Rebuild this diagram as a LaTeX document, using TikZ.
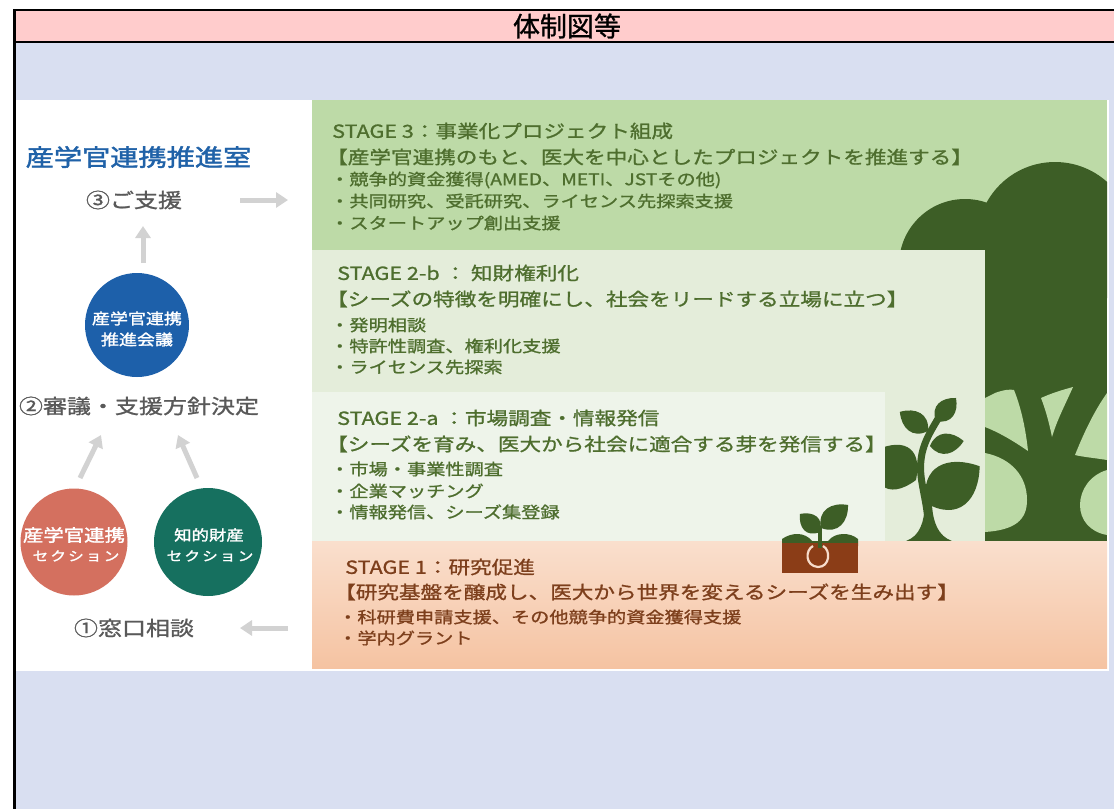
\documentclass[tikz,border=0pt]{standalone}
\usepackage{fontspec}
\usetikzlibrary{arrows.meta}
\newfontfamily\jphead{Noto Sans CJK JP}[FakeBold=1.0]
\newfontfamily\jpm{Noto Sans CJK JP}[FakeStretch=1.2, FakeBold=1.1]
\newfontfamily\jpb{Noto Sans CJK JP}[FakeStretch=1.2, FakeBold=1.8]

\definecolor{hdr}{HTML}{FFCCCC}
\definecolor{lav}{HTML}{D9DFF1}
\definecolor{gthree}{HTML}{BDDAA7}
\definecolor{gtwob}{HTML}{E4EDDA}
\definecolor{gtwoa}{HTML}{EEF4EA}
\definecolor{sonetop}{HTML}{FADFCD}
\definecolor{sonebot}{HTML}{F5C3A2}
\definecolor{treeg}{HTML}{3D5E26}
\definecolor{stgreen}{HTML}{4E6E2E}
\definecolor{stbrown}{HTML}{7D3F1C}
\definecolor{soil}{HTML}{8B3D17}
\definecolor{seed}{HTML}{F7DCCB}
\definecolor{arrowgray}{HTML}{D2D2D2}
\definecolor{officeblue}{HTML}{2062A8}
\definecolor{councilblue}{HTML}{1D60AA}
\definecolor{redc}{HTML}{D4705F}
\definecolor{tealc}{HTML}{16705F}
\definecolor{gtext}{HTML}{595959}

\tikzset{
  sttitle/.style={anchor=west, inner sep=0pt, font=\jpm\fontsize{18}{20}\selectfont},
  stlead/.style={anchor=west, inner sep=0pt, font=\jpm\fontsize{18}{20}\selectfont},
  stitem/.style={anchor=west, inner sep=0pt, font=\jpm\fontsize{16}{18}\selectfont},
  flowlabel/.style={inner sep=0pt, text=gtext, font=\jpm\fontsize{20}{22}\selectfont},
  disc/.style={circle, inner sep=0pt, minimum size=#1},
  disctext/.style={inner sep=0pt, text=white, align=center, font=\jpb\fontsize{15}{21}\selectfont},
  garrow/.style={draw=arrowgray, line width=5pt, -{Triangle[width=15pt,length=12pt]}},
  leaf/.pic={\fill (0,0) .. controls (0.25,0.62) and (0.7,0.5) .. (1,0)
                     .. controls (0.7,-0.5) and (0.25,-0.62) .. (0,0) -- cycle;}
}

\begin{document}
\begin{tikzpicture}[x=1pt,y=-1pt]
\useasboundingbox (0,0) rectangle (1114,809);
\fill[white] (0,0) rectangle (1114,809);

% sheet: header band and body
\fill[lav] (15,42) rectangle (1114,809);
\fill[hdr] (15,10) rectangle (1114,42);
\node[inner sep=0pt, font=\jphead\fontsize{27}{29}\selectfont] (title) at (567,26) {体制図等};
\draw[line width=2.4pt] (1114,10) -- (14.5,10) -- (14.5,809);
\draw[line width=2.4pt] (14.5,42) -- (1114,42);

% figure panel
\fill[white] (16,100) rectangle (1109,671);
\fill[gthree] (312,100) rectangle (1107,541);

% tree
\begin{scope}
  \clip (312,100) rectangle (1107,541);
  \fill[treeg] (965,265) circle[radius=66];
  \fill[treeg] (1055,240) circle[radius=78];
  \fill[treeg] (915,250) rectangle (1107,541);
  \fill[gthree] (985,398) -- (995,393) .. controls (1003,390) and (1010,389) .. (1014,390)
     .. controls (1022,410) and (1026,432) .. (1028,451)
     .. controls (1012,440) and (998,432) .. (985,427) -- cycle;
  \fill[gthree] (985,453) .. controls (1010,458) and (1027,475) .. (1027,500)
     .. controls (1027,520) and (1015,530) .. (985,532) -- cycle;
  \fill[gthree] (1041,398) .. controls (1052,393) and (1062,390) .. (1073,387)
     .. controls (1065,405) and (1057,420) .. (1052,437)
     .. controls (1049,422) and (1045,408) .. (1041,398) -- cycle;
  \fill[gthree] (1107,393) -- (1107,460) .. controls (1095,458) and (1083,457) .. (1075,455)
     .. controls (1085,430) and (1095,410) .. (1107,393) -- cycle;
  \fill[gthree] (1107,470) .. controls (1090,475) and (1080,490) .. (1080,505)
     .. controls (1080,520) and (1090,532) .. (1107,535) -- cycle;
\end{scope}

\fill[gtwob] (312,250) rectangle (985,541);

% young plant
\begin{scope}[treeg]
  \draw[treeg, line width=7pt] (928,536) .. controls (930,505) and (918,482) .. (921,460)
     .. controls (923,440) and (935,425) .. (943,410);
  \fill[treeg] (906,541) .. controls (920,536) and (924,522) .. (925,505) -- (932,505)
     .. controls (933,522) and (938,536) .. (952,541) -- cycle;
  \pic[treeg, rotate=49, xscale=30.5, yscale=23] at (936,421) {leaf};
  \pic[treeg, rotate=145.8, xscale=34, yscale=25] at (928,431) {leaf};
  \pic[treeg, rotate=8.4, xscale=34, yscale=24] at (930,446) {leaf};
  \pic[treeg, rotate=147.5, xscale=52, yscale=55] at (916,480) {leaf};
  \pic[treeg, rotate=34.4, xscale=65, yscale=55] at (926,503) {leaf};
\end{scope}

\fill[gtwoa] (312,392) rectangle (885,541);
\shade[top color=sonetop, bottom color=sonebot] (312,541) rectangle (1107,668);

% sprout in the soil
\fill[treeg] (782,546) -- (782,539) .. controls (792,532) and (805,532) .. (812,541) -- (828,541)
   .. controls (835,532) and (850,532) .. (858,539) -- (858,546) -- cycle;
\fill[soil] (782,543) rectangle (858,573);
\draw[treeg, line width=4pt] (820,548) -- (820,527);
\pic[treeg, rotate=138, xscale=27, yscale=22] at (820,532) {leaf};
\pic[treeg, rotate=40.4, xscale=35.5, yscale=26] at (821,528) {leaf};
\draw[seed, line width=2.2pt] (813,546) .. controls (805,550) and (805,566) .. (818,567)
   .. controls (830,567) and (831,550) .. (823,546);

% stage texts
\node[sttitle, text=stgreen] (s3t) at (332,131) {STAGE 3：事業化プロジェクト組成};
\node[stlead, text=stgreen] (s3l) at (326,157) {【産学官連携のもと、医大を中心としたプロジェクトを推進する】};
\node[stitem, text=stgreen] (s3a) at (330,180) {・競争的資金獲得(AMED、METI、JSTその他)};
\node[stitem, text=stgreen] (s3b) at (330,201) {・共同研究、受託研究、ライセンス先探索支援};
\node[stitem, text=stgreen] (s3c) at (330,223) {・スタートアップ創出支援};

\node[sttitle, text=stgreen] (s2bt) at (337,273) {STAGE 2-b ： 知財権利化};
\node[stlead, text=stgreen] (s2bl) at (326,299) {【シーズの特徴を明確にし、社会をリードする立場に立つ】};
\node[stitem, text=stgreen] (s2ba) at (330,325) {・発明相談};
\node[stitem, text=stgreen] (s2bb) at (330,346) {・特許性調査、権利化支援};
\node[stitem, text=stgreen] (s2bc) at (330,367) {・ライセンス先探索};

\node[sttitle, text=stgreen] (s2at) at (337,418) {STAGE 2-a ：市場調査・情報発信};
\node[stlead, text=stgreen] (s2al) at (326,444) {【シーズを育み、医大から社会に適合する芽を発信する】};
\node[stitem, text=stgreen] (s2aa) at (330,469) {・市場・事業性調査};
\node[stitem, text=stgreen] (s2ab) at (330,491) {・企業マッチング};
\node[stitem, text=stgreen] (s2ac) at (330,512) {・情報発信、シーズ集登録};

\node[sttitle, text=stbrown] (s1t) at (345,567) {STAGE 1：研究促進};
\node[stlead, text=stbrown] (s1l) at (334,592) {【研究基盤を醸成し、医大から世界を変えるシーズを生み出す】};
\node[stitem, text=stbrown] (s1a) at (338,617) {・科研費申請支援、その他競争的資金獲得支援};
\node[stitem, text=stbrown] (s1b) at (338,638) {・学内グラント};

% support flow
\node[inner sep=0pt, text=officeblue, font=\jpb\fontsize{23.5}{26}\selectfont] (office) at (138.5,157) {産学官連携推進室};
\node[flowlabel] (support) at (134,200) {③ご支援};
\node[disc=104pt, fill=councilblue] (council) at (137,325) {};
\node[disctext] (counciltxt) at (137,329) {産学官連携\\推進会議};
\node[flowlabel] (decide) at (139,406) {②審議・支援方針決定};
\node[disc=107pt, fill=redc] (iacsec) at (74,542) {};
\node[disctext, font=\jpb\fontsize{17}{21}\selectfont] (iactxt) at (74,535) {産学官連携};
\node[disctext, font=\jpb\fontsize{13}{15}\selectfont] (iacsub) at (76,556) {セ\,ク\,シ\,ョ\,ン};
\node[disc=108pt, fill=tealc] (ipsec) at (208,542) {};
\node[disctext, font=\jpb\fontsize{14.5}{21}\selectfont] (iptxt) at (209,535) {知的財産};
\node[disctext, font=\jpb\fontsize{13}{15}\selectfont] (ipsub) at (210,556) {セ\,ク\,シ\,ョ\,ン};
\node[flowlabel] (consult) at (134,628) {①窓口相談};

\coordinate (outS) at (240,200);  \coordinate (outE) at (288,200);
\coordinate (upS) at (143,263);   \coordinate (upE) at (143,226);
\coordinate (dlS) at (80,478);    \coordinate (dlE) at (101,435);
\coordinate (drS) at (197,478);   \coordinate (drE) at (178,435);
\coordinate (inS) at (288,628);   \coordinate (inE) at (240,628);
\draw[garrow] (outS) -- (outE);
\draw[garrow] (upS) -- (upE);
\draw[garrow] (dlS) -- (dlE);
\draw[garrow] (drS) -- (drE);
\draw[garrow] (inS) -- (inE);
\end{tikzpicture}
\end{document}
